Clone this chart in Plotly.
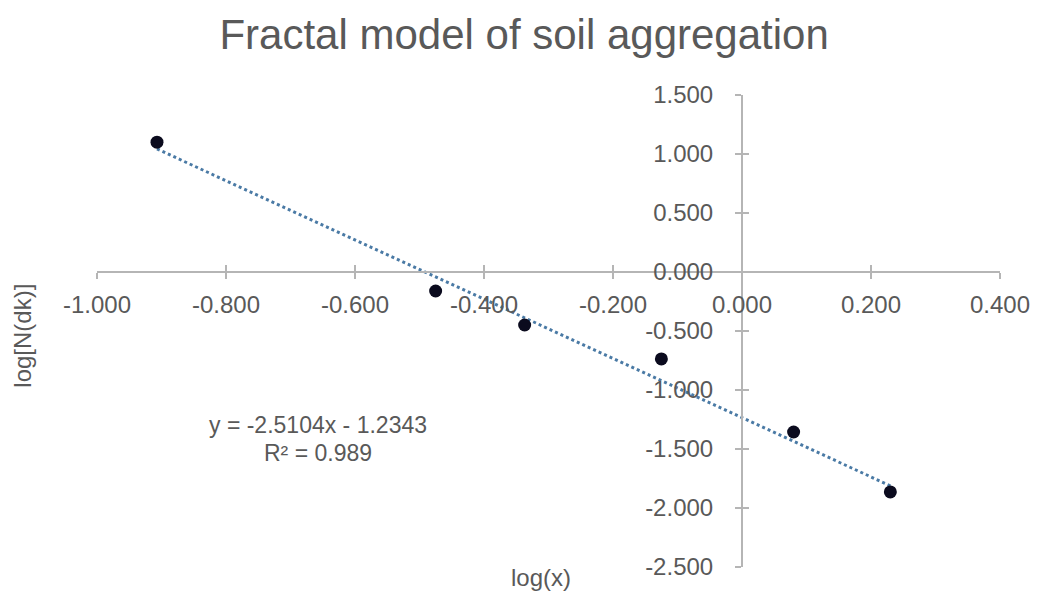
import plotly.graph_objects as go

# Data
log_x = [-0.907, -0.475, -0.337, -0.125, 0.080, 0.230]
log_N = [1.100, -0.161, -0.449, -0.737, -1.356, -1.864]
slope = -2.5104
intercept = -1.2343
r2 = 0.989

x_ticks = [-1.0, -0.8, -0.6, -0.4, -0.2, 0.0, 0.2, 0.4]
y_ticks = [-2.5, -2.0, -1.5, -1.0, -0.5, 0.0, 0.5, 1.0, 1.5]
x_tick_labels = [f"{v:.3f}" for v in x_ticks]
y_tick_labels = [f"{v:.3f}" for v in y_ticks]
x_range = [-1.0, 0.4]
y_range = [-2.5, 1.5]

TXT = "#595959"
AX = "#b5b5b5"
FONT = "Liberation Sans, Arial, sans-serif"

fit_x = [min(log_x), max(log_x)]
fit_y = [slope * v + intercept for v in fit_x]

fig = go.Figure()
fig.add_trace(go.Scatter(x=fit_x, y=fit_y, mode="lines",
                         line=dict(color="#4a7aa5", width=3, dash="dot"),
                         showlegend=False, hoverinfo="skip"))
fig.add_trace(go.Scatter(x=log_x, y=log_N, mode="markers",
                         marker=dict(color="#0b0b1e", size=13),
                         showlegend=False))

xpos = (0 - y_range[0]) / (y_range[1] - y_range[0])
ypos = (0 - x_range[0]) / (x_range[1] - x_range[0])

common_x = dict(range=x_range, tickvals=x_ticks, showgrid=False, zeroline=False,
                showline=True, linecolor=AX, linewidth=2, tickcolor=AX, tickwidth=1.5,
                ticklen=6, anchor="free", position=xpos)
common_y = dict(range=y_range, tickvals=y_ticks, showgrid=False, zeroline=False,
                showline=True, linecolor=AX, linewidth=2, tickcolor=AX, tickwidth=1.5,
                ticklen=6, anchor="free", position=ypos)

eq_x = -0.658
fig.update_layout(
    width=1042, height=607,
    margin=dict(l=97, r=39, t=95, b=40),
    paper_bgcolor="white", plot_bgcolor="white",
    font=dict(family=FONT, color=TXT, size=24),
    title=dict(text="Fractal model of soil aggregation", x=0.503, xanchor="center",
               y=0.943, yanchor="middle", font=dict(size=42, color=TXT, family=FONT)),
    xaxis=dict(**common_x, ticks="outside", ticktext=x_tick_labels,
               ticklabelstandoff=5, tickfont=dict(size=24, color=TXT)),
    yaxis=dict(**common_y, ticks="outside", ticktext=y_tick_labels,
               ticklabelstandoff=17, tickfont=dict(size=24, color=TXT)),
    xaxis2=dict(**common_x, ticks="inside", showticklabels=False, overlaying="x"),
    yaxis2=dict(**common_y, ticks="inside", showticklabels=False, overlaying="y"),
    annotations=[
        dict(text=f"y = {slope}x - {abs(intercept)}", x=eq_x, y=-1.297,
             xref="x", yref="y", showarrow=False, xanchor="center", yanchor="middle",
             font=dict(size=23, color=TXT, family=FONT)),
        dict(text=f"R² = {r2}", x=eq_x, y=-1.534,
             xref="x", yref="y", showarrow=False, xanchor="center", yanchor="middle",
             font=dict(size=23, color=TXT, family=FONT)),
        dict(text="log(x)", x=0.492, y=-0.023, xref="paper", yref="paper",
             xanchor="center", yanchor="middle", showarrow=False,
             font=dict(size=24, color=TXT, family=FONT)),
        dict(text="log[N(dk)]", x=-0.082, y=0.49, xref="paper", yref="paper",
             textangle=-90, xanchor="center", yanchor="middle", showarrow=False,
             font=dict(size=24, color=TXT, family=FONT)),
    ],
)
# dummy invisible trace to keep overlay axes drawn
fig.add_trace(go.Scatter(x=[None], y=[None], xaxis="x2", yaxis="y2", showlegend=False))

fig.write_html("out.html")
